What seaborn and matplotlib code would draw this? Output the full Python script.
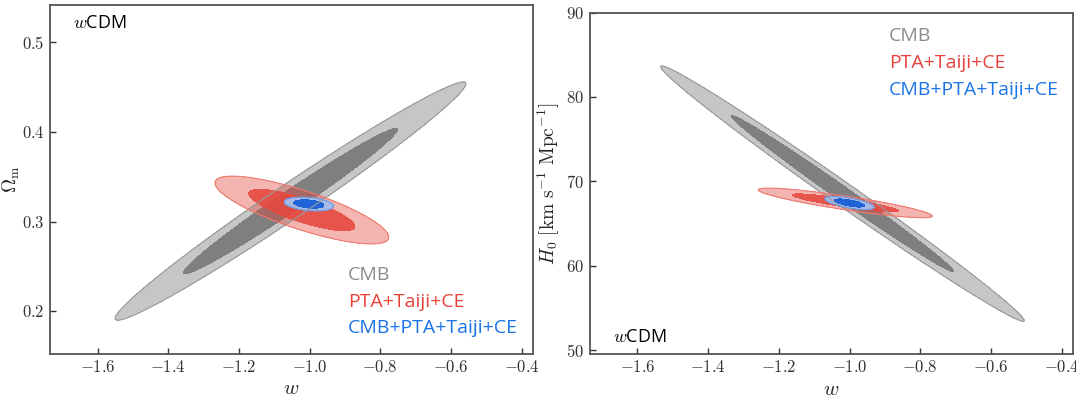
import numpy as np
import seaborn as sns
import matplotlib.pyplot as plt
from matplotlib.ticker import FormatStrFormatter, MultipleLocator

# Gaussian approximations of the posteriors: centre, sigmas, correlation
datasets = ["CMB", "PTA+Taiji+CE", "CMB+PTA+Taiji+CE"]

# panel 1: (w, Omega_m)
om_center = [(-1.054, 0.323), (-1.022, 0.313), (-1.002, 0.3197)]
om_sigma = [(0.200, 0.0535), (0.099, 0.0152), (0.028, 0.0031)]
om_rho = [0.985, -0.80, -0.30]

# panel 2: (w, H0)
h0_center = [(-1.020, 68.55), (-1.012, 67.45), (-1.000, 67.44)]
h0_sigma = [(0.207, 6.1), (0.099, 0.705), (0.028, 0.318)]
h0_rho = [-0.994, -0.885, -0.65]

levels = [2.30, 6.17]  # 68% and 95% for 2 parameters

fill_light = ["#c6c6c6", "#e5473d", "#a4bfee"]
fill_light_alpha = [1.0, 0.40, 0.95]
fill_dark = ["#7f7f7f", "#e5473d", "#1f63d6"]
fill_dark_alpha = [1.0, 0.88, 1.0]
edge_colors = ["#9a9a9a", "#ef7a6e", "#6d98e3"]
label_colors = ["#8c8c8c", "#e8413a", "#1a73e8"]

sns.set_style("white")
plt.rcParams["mathtext.fontset"] = "cm"
plt.rcParams["font.family"] = ["Open Sans", "DejaVu Sans"]


def chi2_grid(xg, yg, center, sigma, rho):
    dx = (xg - center[0]) / sigma[0]
    dy = (yg - center[1]) / sigma[1]
    return (dx ** 2 - 2 * rho * dx * dy + dy ** 2) / (1 - rho ** 2)


def draw_panel(ax, centers, sigmas, rhos, ylim):
    for i in range(len(datasets)):
        # local grid around each posterior so small contours stay smooth
        x = centers[i][0] + np.linspace(-3.2, 3.2, 700) * sigmas[i][0]
        y = centers[i][1] + np.linspace(-3.2, 3.2, 700) * sigmas[i][1]
        xg, yg = np.meshgrid(x, y)
        c2 = chi2_grid(xg, yg, centers[i], sigmas[i], rhos[i])
        ax.contourf(xg, yg, c2, levels=[0, levels[1]], colors=[fill_light[i]],
                    alpha=fill_light_alpha[i])
        ax.contour(xg, yg, c2, levels=[levels[1]], colors=[edge_colors[i]],
                   linewidths=0.8)
        ax.contourf(xg, yg, c2, levels=[0, levels[0]], colors=[fill_dark[i]],
                    alpha=fill_dark_alpha[i])
    ax.set_xlim(-1.735, -0.367)
    ax.set_ylim(*ylim)
    ax.xaxis.set_major_locator(MultipleLocator(0.2))
    ax.xaxis.set_major_formatter(FormatStrFormatter(r"$%.1f$"))
    ax.tick_params(direction="in", length=4, width=1, colors="#333333",
                   labelsize=12, pad=4, top=False, right=False,
                   bottom=True, left=True)
    for s in ax.spines.values():
        s.set_color("#555555")
        s.set_linewidth(1.3)
    ax.set_xlabel(r"$w$", fontsize=15, labelpad=2)


fig = plt.figure(figsize=(10.76, 3.98), dpi=100)
ax1 = fig.add_axes([0.0465, 0.1106, 0.449, 0.877])
ax2 = fig.add_axes([0.548, 0.1098, 0.4495, 0.858])

draw_panel(ax1, om_center, om_sigma, om_rho, (0.1525, 0.5417))
ax1.yaxis.set_major_locator(MultipleLocator(0.1))
ax1.yaxis.set_major_formatter(FormatStrFormatter(r"$%.1f$"))
ax1.set_ylabel(r"$\Omega_{\rm m}$", fontsize=14, labelpad=0)

draw_panel(ax2, h0_center, h0_sigma, h0_rho, (49.49, 90.0))
ax2.yaxis.set_major_locator(MultipleLocator(10))
ax2.yaxis.set_major_formatter(FormatStrFormatter(r"$%d$"))
ax2.set_ylabel(r"$H_0\ [{\rm km\ s^{-1}\ Mpc^{-1}}]$", fontsize=14, labelpad=3)

# model tag
ax1.text(0.048, 0.949, r"$w$CDM", transform=ax1.transAxes, fontsize=13,
         va="center", ha="left", color="black")
ax2.text(0.049, 0.05, r"$w$CDM", transform=ax2.transAxes, fontsize=13,
         va="center", ha="left", color="black")

# coloured legend text
legend_y1 = [0.226, 0.149, 0.0745]
legend_y2 = [0.932, 0.853, 0.774]
for i, name in enumerate(datasets):
    ax1.text(0.617, legend_y1[i], name, transform=ax1.transAxes, fontsize=14,
             color=label_colors[i], va="center", ha="left")
    ax2.text(0.619, legend_y2[i], name, transform=ax2.transAxes, fontsize=14,
             color=label_colors[i], va="center", ha="left")

fig.savefig("out.png", dpi=100)
